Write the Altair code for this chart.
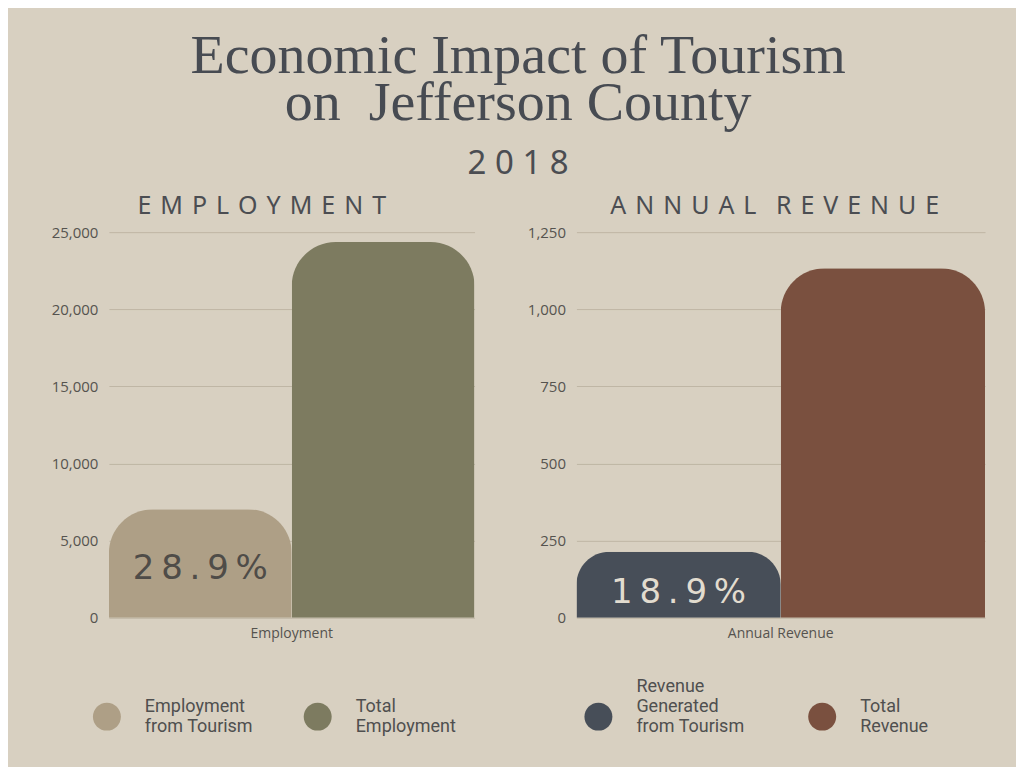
import altair as alt
import pandas as pd

# ---------------- data ----------------
emp_group = ["Employment"]
emp_series = [" |Employment|from Tourism", " |Total|Employment"]
emp_values = [7040, 24360]
emp_ticks = [0, 5000, 10000, 15000, 20000, 25000]

rev_group = ["Annual Revenue"]
rev_series = ["Revenue|Generated|from Tourism", " |Total|Revenue"]
rev_values = [214, 1133]
rev_ticks = [0, 250, 500, 750, 1000, 1250]

pct_labels = ["28.9%", ""]
pct_labels_rev = ["18.9%", ""]

emp_colors = ["#ae9f86", "#7d7b60"]
rev_colors = ["#474e58", "#7a503f"]

BG = "#d8d0c1"
DARK = "#4b4d52"
SP = "\u2009"
WIDE = " \u200a"
GAP = "\u00a0\u00a0\u00a0"

# legend dot drawn a little below the first label line
DOT = "M -1 2.14 A 1 1 0 1 1 1 2.14 A 1 1 0 1 1 -1 2.14 Z"


def spaced(s, sep=SP, gap=GAP):
    return gap.join(sep.join(list(w)) for w in s.split(" "))


def panel(group, series, values, ticks, pcts, colors, title, pct_color,
          width, legend_x, col_pad, title_dx, pct_dy):
    df = pd.DataFrame({
        "group": group * len(series),
        "series": series,
        "value": values,
        "pct": [spaced(p) if p else "" for p in pcts],
    })
    y_axis = alt.Axis(values=ticks, format=",.0f", formatType="number",
                      domain=False, ticks=False,
                      labelFontSize=15, labelPadding=11,
                      labelColor="#55534f", labelFont="Open Sans",
                      gridColor="#bfb6a5", gridWidth=1)
    y_scale = alt.Scale(domain=[ticks[0], ticks[-1]], nice=False)
    base = alt.Chart(df).encode(
        x=alt.X("group:N", title=None,
                scale=alt.Scale(paddingInner=0, paddingOuter=0),
                axis=alt.Axis(labelAngle=0, ticks=False, domain=False,
                              labelFontSize=14, labelPadding=9,
                              labelColor="#55534f", labelFont="Open Sans")),
        xOffset=alt.XOffset("series:N", sort=series,
                            scale=alt.Scale(domain=series, paddingInner=0, paddingOuter=0)),
    )
    bars = base.mark_bar(cornerRadiusTopLeft=44, cornerRadiusTopRight=44).encode(
        y=alt.Y("value:Q", title=None, scale=y_scale, axis=y_axis),
        color=alt.Color("series:N", title=None,
                        scale=alt.Scale(domain=series, range=colors),
                        legend=alt.Legend(
                            orient="none", legendX=legend_x, legendY=441,
                            direction="horizontal", symbolType=DOT,
                            symbolSize=784, symbolStrokeWidth=0, symbolOpacity=1,
                            labelExpr="split(datum.label, '|')",
                            labelFont="Roboto", labelFontSize=18,
                            labelColor="#4f4f4f", labelOffset=24,
                            labelLimit=300, columnPadding=col_pad,
                            labelBaseline="middle")),
    )
    text = base.transform_calculate(mid="datum.value / 2").mark_text(
        font="DejaVu Sans", fontSize=34, color=pct_color, baseline="middle", dy=pct_dy,
    ).encode(
        y=alt.Y("mid:Q", title=None, scale=y_scale, axis=y_axis),
        text="pct:N",
    )
    return alt.layer(bars, text).properties(
        width=width, height=386,
        title=alt.TitleParams(spaced(title, WIDE),
                              font="Noto Sans", fontSize=25, fontWeight="normal",
                              color=DARK, dx=title_dx, offset=6, anchor="middle"),
    )


left = panel(emp_group, emp_series, emp_values, emp_ticks, pct_labels, emp_colors,
             "EMPLOYMENT", "#4f4c48", 366, -16, 50, -30, 6)
right = panel(rev_group, rev_series, rev_values, rev_ticks, pct_labels_rev, rev_colors,
              "ANNUAL REVENUE", "#e2dccf", 409, 8, 63, -6, 8)

chart = alt.hconcat(left, right, spacing=52).resolve_scale(
    color="independent", y="independent", x="independent", xOffset="independent"
).properties(
    background=BG,
    padding={"left": 43, "top": 20, "right": 31, "bottom": 31},
    title=alt.TitleParams(
        ["Economic Impact of Tourism", "on\u00a0 Jefferson County"],
        font="Liberation Serif", fontSize=56, fontWeight="normal", color="#474b52",
        lineHeight=47, anchor="middle",
        subtitle="2 0 1 8", subtitleFont="Noto Sans", subtitleFontSize=33,
        subtitleColor=DARK, subtitlePadding=16, offset=12,
    ),
).configure_view(stroke=None).configure_concat(spacing=52)

chart.save("out.html", embed_options={"renderer": "svg", "actions": False})
